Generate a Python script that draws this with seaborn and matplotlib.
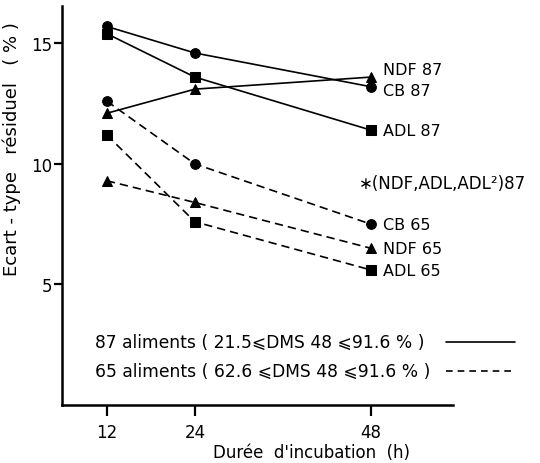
import matplotlib
matplotlib.use("Agg")
import matplotlib.pyplot as plt
import seaborn as sns
import pandas as pd

# ---- data ----
hours = [12, 24, 48]
cb87 = [15.7, 14.6, 13.2]
adl87 = [15.4, 13.6, 11.4]
ndf87 = [12.1, 13.1, 13.6]
cb65 = [12.6, 10.0, 7.5]
ndf65 = [9.3, 8.4, 6.5]
adl65 = [11.2, 7.6, 5.6]

series_names = ["CB 87", "ADL 87", "NDF 87", "CB 65", "NDF 65", "ADL 65"]
series_values = [cb87, adl87, ndf87, cb65, ndf65, adl65]
series_markers = ["o", "s", "^", "o", "^", "s"]
series_styles = ["-", "-", "-", "--", "--", "--"]

end_labels = ["NDF 87", "CB 87", "ADL 87", "CB 65", "NDF 65", "ADL 65"]
end_label_y = [13.92, 13.03, 11.4, 7.5, 6.5, 5.58]
note_label = "\u2217(NDF,ADL,ADL\u00b2)87"
legend_texts = ["87 aliments ( 21.5\u2a7dDMS 48 \u2a7d91.6 % )",
                "65 aliments ( 62.6 \u2a7dDMS 48 \u2a7d91.6 % )"]

rows = []
for name, vals in zip(series_names, series_values):
    for h, v in zip(hours, vals):
        rows.append({"series": name, "hours": h, "value": v})
df = pd.DataFrame(rows)

sns.set_style("ticks")
plt.rcParams["font.family"] = ["DejaVu Sans"]
plt.rcParams["text.color"] = "black"
plt.rcParams["axes.labelcolor"] = "black"

fig = plt.figure(figsize=(5.4, 4.64), dpi=100)
ax = fig.add_axes([0.115, 0.125, 0.724, 0.86])

for name, mk, ls in zip(series_names, series_markers, series_styles):
    sub = df[df["series"] == name]
    ms = 7 if mk == "o" else 6.5
    sns.lineplot(data=sub, x="hours", y="value", ax=ax, color="black",
                 marker=mk, markersize=ms, markeredgecolor="black",
                 linewidth=1.2, legend=False, clip_on=False)
    line = ax.lines[-1]
    line.set_linestyle(ls)
    if ls == "--":
        line.set_dashes((5, 3))

for lab, yv in zip(end_labels, end_label_y):
    ax.text(49.6, yv, lab, fontsize=11.5, va="center", ha="left", clip_on=False)
ax.text(46.3, 9.2, note_label, fontsize=12, va="center", ha="left", clip_on=False)

legend_y = [2.6, 1.42]
for txt, yv, ls in zip(legend_texts, legend_y, ["-", "--"]):
    ax.text(10.4, yv, txt, fontsize=12.3, va="center", ha="left")
    ln, = ax.plot([58.3, 67.6], [yv, yv], color="black", linewidth=1.2,
                  linestyle=ls, clip_on=False)
    if ls == "--":
        ln.set_dashes((4, 3))

ax.set_xlim(5.9, 59.2)
ax.set_ylim(0, 16.55)
ax.set_xticks(hours)
ax.set_xticklabels(["12", "24", "48"])
ax.set_yticks([5, 10, 15])
ax.set_yticklabels(["5", "10", "15"])

for side in ["top", "right"]:
    ax.spines[side].set_visible(False)
for side in ["left", "bottom"]:
    ax.spines[side].set_linewidth(1.8)
    ax.spines[side].set_color("black")

ax.tick_params(axis="y", direction="out", length=6, width=1.6, labelsize=12,
               pad=1, colors="black")
ax.tick_params(axis="x", direction="out", length=8, width=1.6, labelsize=12,
               pad=5, colors="black")

ax.set_xlabel("Dur\u00e9e  d'incubation  (h)", fontsize=12, color="black")
ax.set_ylabel("Ecart - type   r\u00e9siduel   ( % )", fontsize=13, color="black")
ax.xaxis.set_label_coords(0.637, -0.095)
ax.yaxis.set_label_coords(-0.105, 0.645)

fig.savefig("out.png", dpi=100)
